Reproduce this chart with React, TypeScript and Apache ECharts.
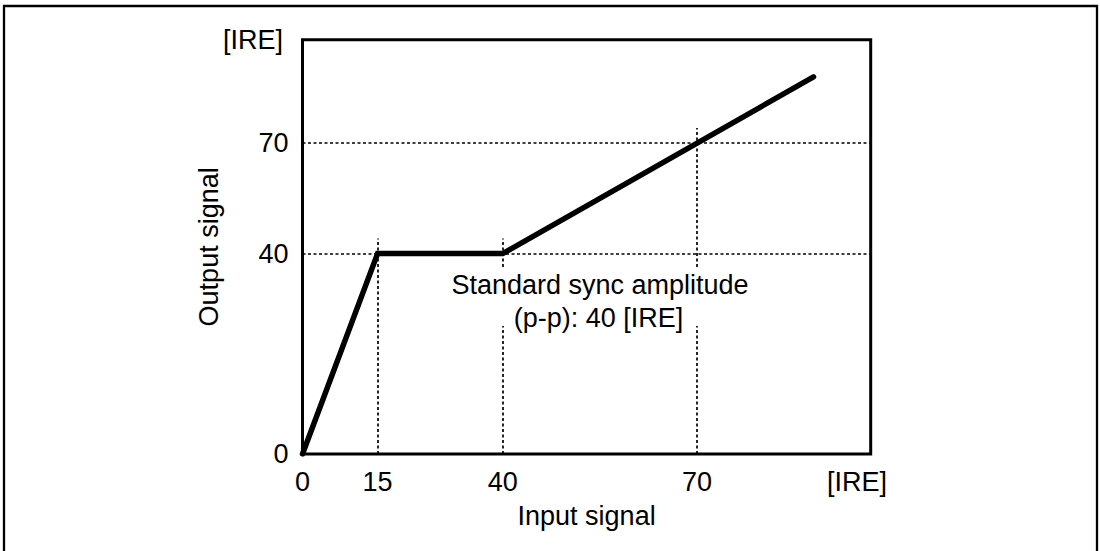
import React, { useEffect, useRef } from "react";
import * as echarts from "echarts";

// ---- data (IRE) ----
const inputIRE = [0, 15, 40, 88];
const outputIRE = [0, 40, 40, 88];
const xTickValues = [0, 15, 40, 70];
const yTickValues = [0, 40, 70];
const guideXValues = [15, 40, 70];
const guideYValues = [40, 70];

// schematic (piecewise) axis scale: real IRE -> position on the axis
const xScaleReal = [0, 40, 70];
const xScaleShown = [0, 40, 78.8];
const yScaleReal = [0, 40, 70];
const yScaleShown = [0, 40, 62.05];
const X_MAX = 113.5;
const Y_MAX = 82.7;

function piecewise(v: number, real: number[], shown: number[]): number {
  let i = 0;
  while (i < real.length - 2 && v > real[i + 1]) i++;
  const r0 = real[i], r1 = real[i + 1];
  const s0 = shown[i], s1 = shown[i + 1];
  return s0 + ((v - r0) * (s1 - s0)) / (r1 - r0);
}
const sx = (v: number) => piecewise(v, xScaleReal, xScaleShown);
const sy = (v: number) => piecewise(v, yScaleReal, yScaleShown);

const FONT = '"Liberation Sans", Arial, Helvetica, sans-serif';
const FS = 27;

function nearestLabel(v: number, ticks: number[], map: (n: number) => number) {
  let best = ticks[0];
  let d = Infinity;
  for (const t of ticks) {
    const dd = Math.abs(map(t) - v);
    if (dd < d) {
      d = dd;
      best = t;
    }
  }
  return String(best);
}

export default function App() {
  const ref = useRef<HTMLDivElement>(null);
  useEffect(() => {
    document.body.style.margin = "0";
    document.body.style.overflow = "hidden";
    if (!ref.current) return;
    const chart = echarts.init(ref.current, null, { renderer: "svg" });
    const guideLines: any[] = [];
    guideYValues.forEach((y) => {
      guideLines.push([{ coord: [0, sy(y)] }, { coord: [X_MAX, sy(y)] }]);
    });
    guideXValues.forEach((x) => {
      const idx = inputIRE.indexOf(x);
      const yAt = idx >= 0 ? outputIRE[idx] : x;
      guideLines.push([{ coord: [sx(x), 0] }, { coord: [sx(x), sy(yAt) + 3] }]);
    });

    chart.setOption({
      animation: false,
      backgroundColor: "#fff",
      textStyle: { fontFamily: FONT },
      grid: {
        left: 302.5,
        right: 229.3,
        top: 39.7,
        bottom: 97,
        show: true,
        borderColor: "#000",
        borderWidth: 3,
        backgroundColor: "transparent",
        containLabel: false,
      },
      xAxis: {
        type: "value",
        min: 0,
        max: X_MAX,
        name: "Input signal",
        nameLocation: "middle",
        nameGap: 48,
        nameTextStyle: { fontSize: FS, color: "#000", fontFamily: FONT },
        axisLine: { show: false },
        axisTick: { show: false },
        splitLine: { show: false },
        axisLabel: {
          customValues: xTickValues.map(sx),
          formatter: (v: number) => nearestLabel(v, xTickValues, sx),
          fontSize: FS,
          color: "#000",
          fontFamily: FONT,
          margin: 14,
        },
      },
      yAxis: {
        type: "value",
        min: 0,
        max: Y_MAX,
        name: "Output signal",
        nameLocation: "middle",
        nameGap: 80,
        nameRotate: 90,
        nameTextStyle: { fontSize: FS, color: "#000", fontFamily: FONT },
        axisLine: { show: false },
        axisTick: { show: false },
        splitLine: { show: false },
        axisLabel: {
          customValues: yTickValues.map(sy),
          formatter: (v: number) => nearestLabel(v, yTickValues, sy),
          fontSize: FS,
          color: "#000",
          fontFamily: FONT,
          margin: 14,
        },
      },
      series: [
        {
          name: "guides",
          type: "line",
          z: 1,
          data: [[0, 0]],
          showSymbol: false,
          symbol: "none",
          lineStyle: { width: 0, opacity: 0 },
          silent: true,
          markLine: {
            silent: true,
            symbol: ["none", "none"],
            label: { show: false },
            lineStyle: { color: "#000", width: 1.7, type: [3, 2.5] },
            data: guideLines,
          },
        },
        {
          name: "Output",
          type: "line",
          z: 5,
          data: inputIRE.map((x, i) => [sx(x), sy(outputIRE[i])]),
          showSymbol: false,
          symbol: "none",
          lineStyle: { color: "#000", width: 5.5, cap: "round", join: "miter" },
        },
      ],
      graphic: [
        {
          type: "rect",
          z: 100,
          shape: { x: 4, y: 6, width: 1093, height: 600 },
          style: { fill: "none", stroke: "#000", lineWidth: 2.3 },
          silent: true,
        },
        {
          type: "rect",
          z: 100,
          shape: { x: 452, y: 268, width: 300, height: 58 },
          style: { fill: "#fff" },
          silent: true,
        },
        {
          type: "text",
          z: 101,
          style: {
            text: "Standard sync amplitude",
            x: 600,
            y: 285,
            align: "center",
            verticalAlign: "middle",
            textAlign: "center",
            textVerticalAlign: "middle",
            font: `${FS}px ${FONT}`,
            fill: "#000",
          },
        },
        {
          type: "text",
          z: 101,
          style: {
            text: "(p-p): 40 [IRE]",
            x: 598.5,
            y: 318,
            align: "center",
            verticalAlign: "middle",
            textAlign: "center",
            textVerticalAlign: "middle",
            font: `${FS}px ${FONT}`,
            fill: "#000",
          },
        },
        {
          type: "text",
          z: 101,
          style: {
            text: "[IRE]",
            x: 253,
            y: 40,
            align: "center",
            verticalAlign: "middle",
            textAlign: "center",
            textVerticalAlign: "middle",
            font: `${FS}px ${FONT}`,
            fill: "#000",
          },
        },
        {
          type: "text",
          z: 101,
          style: {
            text: "[IRE]",
            x: 857,
            y: 482,
            align: "center",
            verticalAlign: "middle",
            textAlign: "center",
            textVerticalAlign: "middle",
            font: `${FS}px ${FONT}`,
            fill: "#000",
          },
        },
      ],
    });
    return () => chart.dispose();
  }, []);
  return <div ref={ref} style={{ width: 1100, height: 551 }} />;
}
